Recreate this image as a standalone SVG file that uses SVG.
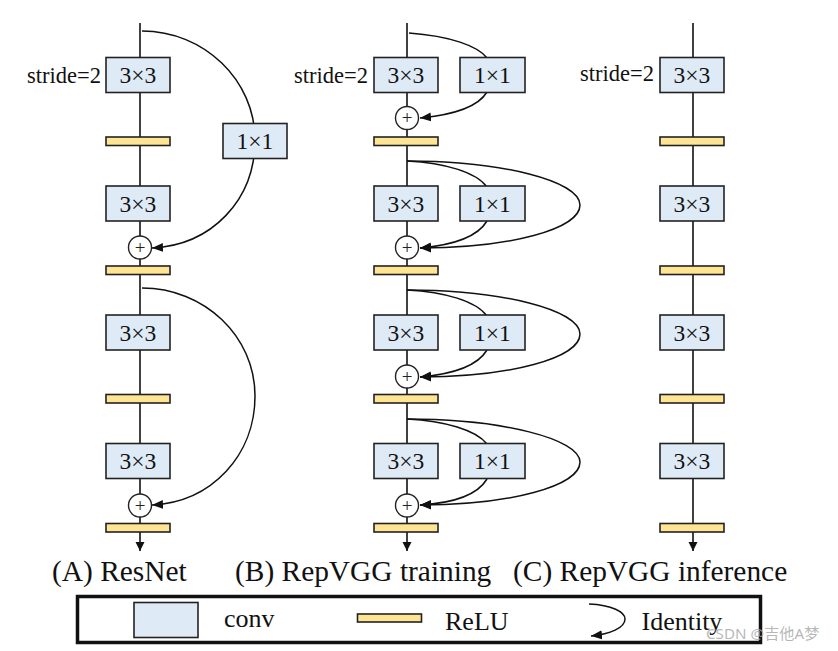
<svg xmlns="http://www.w3.org/2000/svg" width="838" height="651" viewBox="0 0 838 651">
<defs>
<style>
.conv{fill:#DEEAF6;stroke:#222;stroke-width:1.6}
.relu{fill:#FFE493;stroke:#222;stroke-width:1.6}
.plus{fill:#fff;stroke:#222;stroke-width:1.4}
.ln{fill:none;stroke:#111;stroke-width:1.6}
.arc{fill:none;stroke:#111;stroke-width:1.5;marker-end:url(#ah)}
.lbl{font-family:"Liberation Serif","Times New Roman",serif;font-size:23.5px;fill:#111;text-anchor:middle}
.str{font-family:"Liberation Serif","Times New Roman",serif;font-size:22.5px;fill:#111;text-anchor:end}
.pl{font-family:"Liberation Serif","Times New Roman",serif;font-size:19px;fill:#222;text-anchor:middle}
.cap{font-family:"Liberation Serif","Times New Roman",serif;font-size:29.4px;fill:#111}
.leg{font-family:"Liberation Serif","Times New Roman",serif;font-size:26px;fill:#111}
</style>
<marker id="ah" markerWidth="12" markerHeight="10" refX="11" refY="5" orient="auto" markerUnits="userSpaceOnUse">
<path d="M0,0.5 L11,5 L0,9.5 Z" fill="#111"/>
</marker>
<marker id="dn" markerWidth="10" markerHeight="10" refX="9" refY="5" orient="auto" markerUnits="userSpaceOnUse">
<path d="M0,0.5 L9,5 L0,9.5 Z" fill="#111"/>
</marker>
</defs>
<rect width="838" height="651" fill="#fff"/>

<g id="connectors">
<line class="ln" x1="140" y1="23" x2="140" y2="551" marker-end="url(#dn)"/>
<line class="ln" x1="407" y1="23" x2="407" y2="551" marker-end="url(#dn)"/>
<line class="ln" x1="693" y1="23" x2="693" y2="551" marker-end="url(#dn)"/>
<path class="arc" d="M142,31 C204,31 255,80 255,140 C255,200 212,245 152,248"/>
<path class="arc" d="M142,288 C204,288 255,336 255,396 C255,455 212,502 152,505"/>
<path class="arc" d="M409,33 C450,36 478,46 487,58 M487,92 C478,107 452,115 420,118"/>
<path class="arc" d="M407,161 C445,163 476,172 487,187 M487,221 C478,236 455,245 420,248"/>
<path class="arc" d="M407,161 C502,161 580,181 580,205 C580,229 510,248 420,248"/>
<path class="arc" d="M407,290 C445,292 476,301 487,316 M487,350 C478,365 455,374 420,377"/>
<path class="arc" d="M407,290 C502,290 580,310 580,334 C580,358 510,377 420,377"/>
<path class="arc" d="M407,419 C445,421 476,430 487,444 M487,479 C478,494 455,503 420,505"/>
<path class="arc" d="M407,419 C502,419 580,439 580,462 C580,486 510,505 420,505"/>
</g>

<g id="resnet">
<g id="a-conv1"><rect class="conv" x="106" y="57.5" width="64" height="35"/><text class="lbl" x="138" y="83">3×3</text></g>
<text class="str" x="101" y="82.5">stride=2</text>
<g id="a-1x1"><rect class="conv" x="223" y="123.5" width="64" height="35"/><text class="lbl" x="255" y="149">1×1</text></g>
<g id="a-relu1"><rect class="relu" x="106" y="137" width="64" height="8.5"/></g>
<g id="a-conv2"><rect class="conv" x="106" y="186" width="64" height="35"/><text class="lbl" x="138" y="211.5">3×3</text></g>
<g id="a-add1"><circle class="plus" cx="140" cy="247.5" r="11.5"/><text class="pl" x="140" y="253.5">+</text></g>
<g id="a-relu2"><rect class="relu" x="106" y="266" width="64" height="8.5"/></g>
<g id="a-conv3"><rect class="conv" x="106" y="315" width="64" height="35"/><text class="lbl" x="138" y="340.5">3×3</text></g>
<g id="a-relu3"><rect class="relu" x="106" y="394.5" width="64" height="8.5"/></g>
<g id="a-conv4"><rect class="conv" x="106" y="443.5" width="64" height="35"/><text class="lbl" x="138" y="469">3×3</text></g>
<g id="a-add2"><circle class="plus" cx="140" cy="505.5" r="11.5"/><text class="pl" x="140" y="511.5">+</text></g>
<g id="a-relu4"><rect class="relu" x="106" y="523.5" width="64" height="8.5"/></g>
</g>

<g id="repvgg-train">
<text class="str" x="368" y="82.5">stride=2</text>
<g id="b-conv1"><rect class="conv" x="374" y="57.5" width="64" height="35"/><text class="lbl" x="406" y="83">3×3</text></g>
<g id="b-1x1-1"><rect class="conv" x="460" y="57.5" width="65" height="35"/><text class="lbl" x="492.5" y="83">1×1</text></g>
<g id="b-add1"><circle class="plus" cx="407" cy="118" r="11.5"/><text class="pl" x="407" y="124">+</text></g>
<g id="b-relu1"><rect class="relu" x="374" y="137" width="64" height="8.5"/></g>
<g id="b-conv2"><rect class="conv" x="374" y="186" width="64" height="35"/><text class="lbl" x="406" y="211.5">3×3</text></g>
<g id="b-1x1-2"><rect class="conv" x="460" y="186" width="65" height="35"/><text class="lbl" x="492.5" y="211.5">1×1</text></g>
<g id="b-add2"><circle class="plus" cx="407" cy="247.5" r="11.5"/><text class="pl" x="407" y="253.5">+</text></g>
<g id="b-relu2"><rect class="relu" x="374" y="266" width="64" height="8.5"/></g>
<g id="b-conv3"><rect class="conv" x="374" y="315" width="64" height="35"/><text class="lbl" x="406" y="340.5">3×3</text></g>
<g id="b-1x1-3"><rect class="conv" x="460" y="315" width="65" height="35"/><text class="lbl" x="492.5" y="340.5">1×1</text></g>
<g id="b-add3"><circle class="plus" cx="407" cy="376.5" r="11.5"/><text class="pl" x="407" y="382.5">+</text></g>
<g id="b-relu3"><rect class="relu" x="374" y="394.5" width="64" height="8.5"/></g>
<g id="b-conv4"><rect class="conv" x="374" y="443.5" width="64" height="35"/><text class="lbl" x="406" y="469">3×3</text></g>
<g id="b-1x1-4"><rect class="conv" x="460" y="443.5" width="65" height="35"/><text class="lbl" x="492.5" y="469">1×1</text></g>
<g id="b-add4"><circle class="plus" cx="407" cy="505.5" r="11.5"/><text class="pl" x="407" y="511.5">+</text></g>
<g id="b-relu4"><rect class="relu" x="374" y="523.5" width="64" height="8.5"/></g>
</g>

<g id="repvgg-infer">
<text class="str" x="654" y="81">stride=2</text>
<g id="c-conv1"><rect class="conv" x="660" y="57.5" width="64" height="35"/><text class="lbl" x="692" y="83">3×3</text></g>
<g id="c-relu1"><rect class="relu" x="660" y="137" width="64" height="8.5"/></g>
<g id="c-conv2"><rect class="conv" x="660" y="186" width="64" height="35"/><text class="lbl" x="692" y="211.5">3×3</text></g>
<g id="c-relu2"><rect class="relu" x="660" y="266" width="64" height="8.5"/></g>
<g id="c-conv3"><rect class="conv" x="660" y="315" width="64" height="35"/><text class="lbl" x="692" y="340.5">3×3</text></g>
<g id="c-relu3"><rect class="relu" x="660" y="394.5" width="64" height="8.5"/></g>
<g id="c-conv4"><rect class="conv" x="660" y="443.5" width="64" height="35"/><text class="lbl" x="692" y="469">3×3</text></g>
<g id="c-relu4"><rect class="relu" x="660" y="523.5" width="64" height="8.5"/></g>
</g>

<g id="captions">
<text class="cap" x="52" y="581">(A) ResNet</text>
<text class="cap" x="235" y="581">(B) RepVGG training</text>
<text class="cap" x="513" y="581">(C) RepVGG inference</text>
</g>

<g id="legend">
<rect x="77.5" y="596.5" width="683" height="46" fill="#fff" stroke="#111" stroke-width="3.5"/>
<rect class="conv" x="134" y="602.5" width="64" height="35"/>
<text class="leg" x="224" y="627">conv</text>
<rect class="relu" x="357.5" y="614" width="64" height="8"/>
<text class="leg" x="445" y="629.5">ReLU</text>
<path class="arc" d="M589,604 C612,605 625,612 625,619 C625,628 610,634 591,636"/>
<text class="leg" x="641.5" y="629.5">Identity</text>
</g>
<text x="706" y="639" font-family="'Noto Sans','Noto Sans CJK SC',sans-serif" font-size="15.2px" fill="#aaaaaa" fill-opacity="0.85">CSDN @吉他A梦</text>
</svg>
